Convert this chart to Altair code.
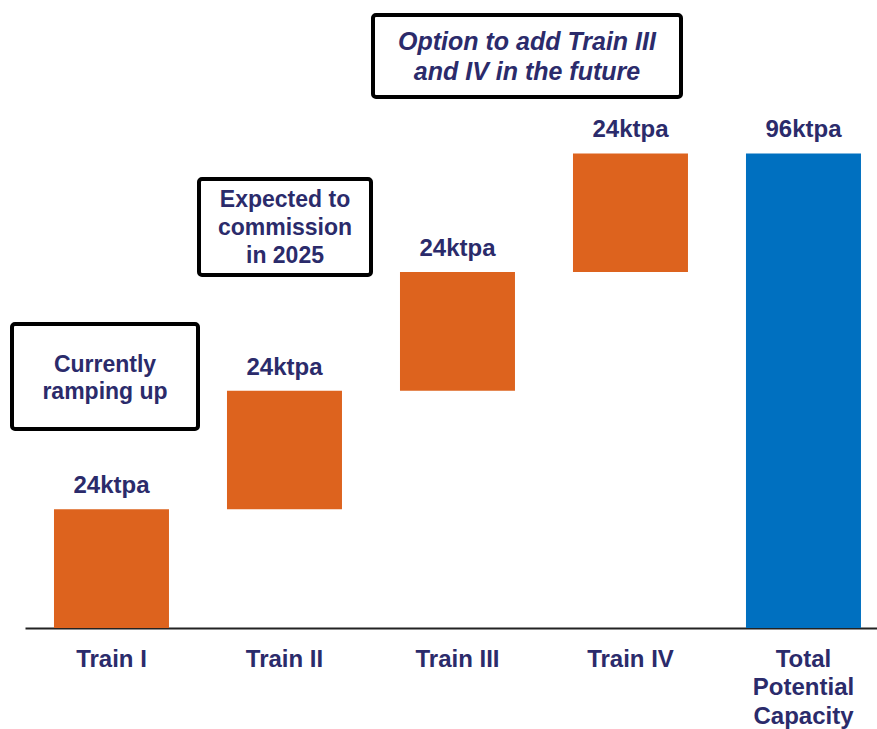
import altair as alt
import pandas as pd

categories = ["Train I", "Train II", "Train III", "Train IV", "Total Potential Capacity"]
values = [24, 24, 24, 24, 96]
is_total = [False, False, False, False, True]

notes = [
    "Currently\nramping up",
    "Expected to\ncommission\nin 2025",
    "Option to add Train III\nand IV in the future",
]

NAVY = "#2b2b6b"
ORANGE = "#dd631e"
BLUE = "#0070c0"
FONT = "Liberation Sans"

rows = []
running = 0
for c, v, t in zip(categories, values, is_total):
    if t:
        start, end = 0, v
    else:
        start, end = running, running + v
        running = end
    rows.append({"cat": c, "start": start, "end": end, "kind": "Total" if t else "Step",
                 "label": f"{v}ktpa"})
df = pd.DataFrame(rows)

x = alt.X("cat:N", sort=categories, title=None,
          scale=alt.Scale(paddingInner=0.3353, paddingOuter=0.1301, align=0.644),
          axis=alt.Axis(labelAngle=0, labelFont=FONT, labelFontSize=24, labelFontWeight="bold",
                        labelColor=NAVY, ticks=False, tickSize=0, labelPadding=19,
                        domainColor="#222222", domainWidth=2, labelLineHeight=28.5, grid=False,
                        labelExpr="datum.label == 'Total Potential Capacity' ? ['Total','Potential','Capacity'] : datum.label"))
y = alt.Y("start:Q", scale=alt.Scale(domain=[0, 125], nice=False, zero=True), axis=None, title=None)

base = alt.Chart(df)
bars = base.mark_bar(cornerRadius=0).encode(
    x=x, y=y, y2="end:Q",
    color=alt.Color("kind:N", scale=alt.Scale(domain=["Step", "Total"], range=[ORANGE, BLUE]), legend=None),
)
labels = base.mark_text(baseline="alphabetic", dy=-16, font=FONT, fontSize=24,
                        fontWeight="bold", color=NAVY).encode(
    x=alt.X("cat:N", sort=categories), y=alt.Y("end:Q"), text="label:N")

boxes_spec = [
    (12, 198, 324, 429, 105, 372, 27, "normal", 23),
    (199, 371, 179, 275, 285, 207, 28, "normal", 23),
    (373, 681, 15, 97, 527, 50, 30, "italic", 25),
]
layers = [bars, labels]
for note, (x1, x2, y1, y2, tx, ty, lh, style, fs) in zip(notes, boxes_spec):
    nd = pd.DataFrame({"note": [note]})
    box = alt.Chart(nd).mark_rect(fill="white", stroke="black", strokeWidth=4, cornerRadius=3).encode(
        x=alt.value(x1 - 25), x2=alt.value(x2 - 25), y=alt.value(y1 - 10), y2=alt.value(y2 - 10))
    txt = alt.Chart(nd).mark_text(align="center", baseline="alphabetic", font=FONT, fontSize=fs,
                                  fontWeight="bold", fontStyle=style, color=NAVY,
                                  lineBreak="\n", lineHeight=lh).encode(
        x=alt.value(tx - 25), y=alt.value(ty - 10), text="note:N")
    layers += [box, txt]

chart = alt.layer(*layers).properties(
    width=852, height=618,
    autosize=alt.AutoSizeParams(type="none"),
    padding={"left": 25, "top": 10, "right": 0, "bottom": 101},
).configure(background="white").configure_view(stroke=None, strokeWidth=0)

chart.save("out.html", embed_options={"renderer": "svg", "actions": False})
